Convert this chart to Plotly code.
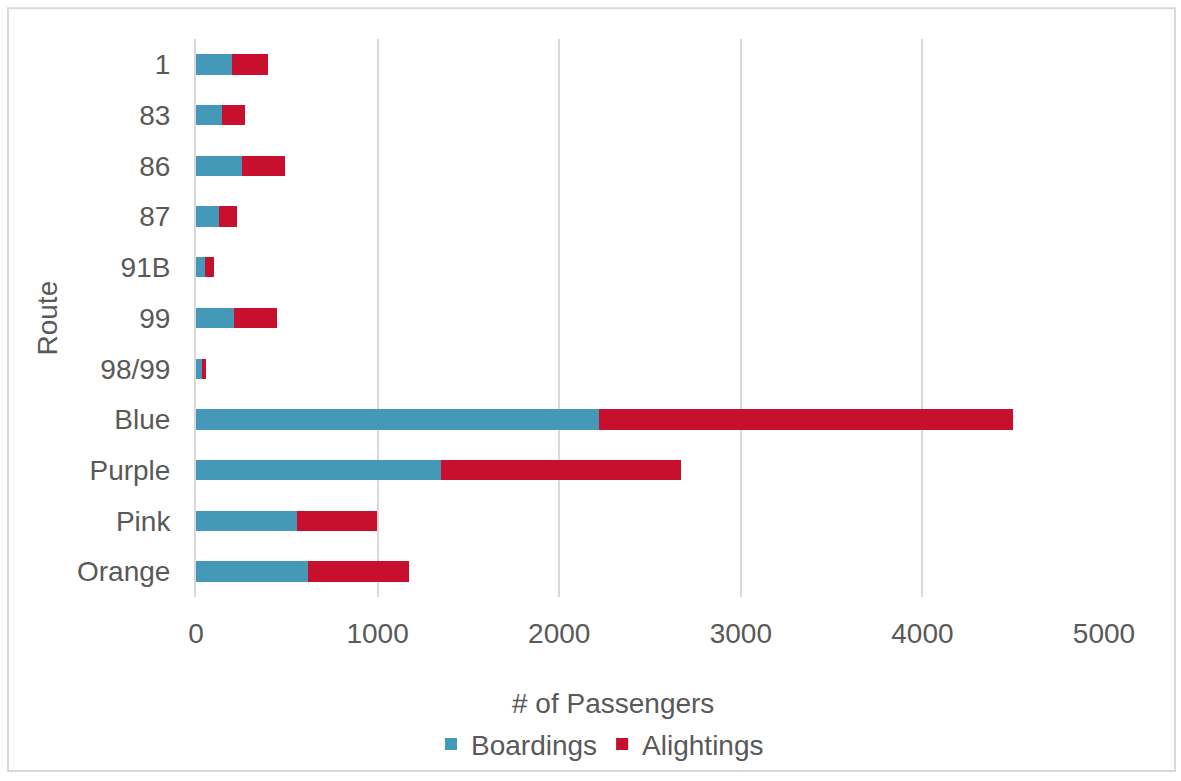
import plotly.graph_objects as go

routes = ["1", "83", "86", "87", "91B", "99", "98/99", "Blue", "Purple", "Pink", "Orange"]
boardings = [200, 141, 255, 128, 50, 211, 35, 2220, 1349, 558, 614]
alightings = [195, 127, 233, 98, 49, 233, 22, 2280, 1323, 439, 559]
x_ticks = [0, 1000, 2000, 3000, 4000, 5000]

BLUE = "#4499B8"
RED = "#C8102E"
GRAY_TXT = "#595959"
FONT = "Liberation Sans, Arial, sans-serif"
FS = 28

fig = go.Figure()
fig.add_trace(go.Bar(y=routes, x=boardings, orientation="h", name="Boardings",
                     marker=dict(color=BLUE, line=dict(width=0))))
fig.add_trace(go.Bar(y=routes, x=alightings, orientation="h", name="Alightings",
                     marker=dict(color=RED, line=dict(width=0))))

L, R, T, B = 196, 77, 39, 181
W, H = 1181, 781
pw, ph = W - L - R, H - T - B

def px(xp):
    return (xp - L) / pw

def py(yp):
    return (H - B - yp) / ph

fig.update_layout(
    width=W, height=H,
    barmode="stack", bargap=0.6,
    margin=dict(l=L, r=R, t=T, b=B),
    paper_bgcolor="white", plot_bgcolor="white",
    font=dict(family=FONT, color=GRAY_TXT, size=FS),
    xaxis=dict(range=[0, 5000], tickvals=x_ticks, showgrid=True, gridcolor="#D9D9D9",
               gridwidth=2, zeroline=False, showline=False, ticks="",
               ticklabelstandoff=17, tickfont=dict(size=FS, color=GRAY_TXT)),
    yaxis=dict(categoryorder="array", categoryarray=routes[::-1], showgrid=False,
               showline=True, linecolor="#D9D9D9", linewidth=2, ticks="",
               ticklabelstandoff=18, tickfont=dict(size=FS, color=GRAY_TXT)),
    legend=dict(orientation="h", xanchor="center", yanchor="middle",
                x=px(600), y=py(748), font=dict(size=FS, color=GRAY_TXT),
                itemwidth=30, traceorder="normal"),
    showlegend=True,
    annotations=[
        dict(text="# of Passengers", xref="paper", yref="paper", x=px(613), y=py(707),
             xanchor="center", yanchor="middle", showarrow=False,
             font=dict(size=FS, color=GRAY_TXT)),
        dict(text="Route", xref="paper", yref="paper", x=px(47), y=py(320),
             xanchor="center", yanchor="middle", showarrow=False, textangle=-90,
             font=dict(size=FS, color=GRAY_TXT)),
    ],
    shapes=[
        dict(type="rect", xref="paper", yref="paper", x0=px(8), x1=px(1175),
             y0=py(775), y1=py(8), line=dict(color="#D9D9D9", width=2),
             fillcolor="rgba(0,0,0,0)", layer="below"),
    ],
)

fig.write_html("out.html")
